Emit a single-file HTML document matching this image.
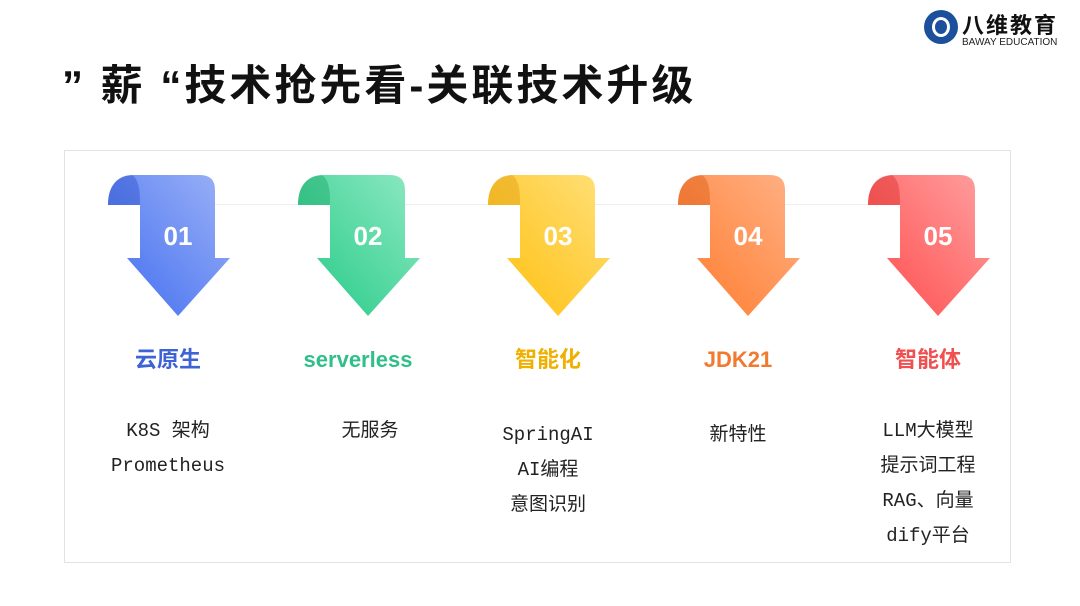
<!DOCTYPE html>
<html><head><meta charset="utf-8"><style>
body{margin:0;width:1080px;height:606px;background:#fff;position:relative;overflow:hidden;font-family:"Liberation Sans","Noto Sans CJK SC",sans-serif}
.t{position:absolute;left:62px;top:52px;font-size:42px;font-weight:bold;color:#111;letter-spacing:3px}
.box{position:absolute;left:64px;top:150px;width:945px;height:411px;border:1px solid #e2e2e2}
.h{position:absolute;font-size:22px;font-weight:bold;text-align:center;width:180px;top:345px;height:30px;line-height:30px}
.d{position:absolute;font-family:"Liberation Mono","Noto Sans CJK SC",monospace;font-size:19px;color:#222;text-align:center;width:180px;top:414px;line-height:35px}
</style></head><body>
<div class="t">” 薪 “技术抢先看-关联技术升级</div>
<div style="position:absolute;left:924px;top:10px;width:34px;height:34px;border-radius:50%;background:#1c4f9c"></div>
<div style="position:absolute;left:932px;top:17px;width:18px;height:20px;border:3px solid #fff;border-radius:50%;box-sizing:border-box"></div>
<div style="position:absolute;left:962px;top:8px;font-size:22px;font-weight:bold;color:#111;letter-spacing:2px">八维教育</div>
<div style="position:absolute;left:962px;top:37px;font-size:10px;color:#222">BAWAY EDUCATION</div>
<div class="box"></div>
<div style="position:absolute;left:140px;top:204px;width:800px;height:1px;background:#eee"></div>
<svg width="1080" height="606" style="position:absolute;left:0;top:0">
<defs>
<linearGradient id="g1" x1="0" y1="1" x2="1" y2="0"><stop offset="0" stop-color="#3f6cf0"/><stop offset="1" stop-color="#9cb2f7"/></linearGradient>
<linearGradient id="g2" x1="0" y1="1" x2="1" y2="0"><stop offset="0" stop-color="#22c985"/><stop offset="1" stop-color="#8ee9c2"/></linearGradient>
<linearGradient id="g3" x1="0" y1="1" x2="1" y2="0"><stop offset="0" stop-color="#ffbe0a"/><stop offset="1" stop-color="#ffe07a"/></linearGradient>
<linearGradient id="g4" x1="0" y1="1" x2="1" y2="0"><stop offset="0" stop-color="#ff7a2a"/><stop offset="1" stop-color="#ffb287"/></linearGradient>
<linearGradient id="g5" x1="0" y1="1" x2="1" y2="0"><stop offset="0" stop-color="#ff4a4a"/><stop offset="1" stop-color="#ffa0a0"/></linearGradient>
<g id="a">
<path d="M108,205 C108,185 118,175 135,175 L200,175 Q215,175 215,190 L215,258 L230,258 L178,316 L127,258 L140,258 L140,205 Z"/>
</g>
</defs>
<g fill="url(#g1)"><use href="#a"/></g>
<g fill="url(#g2)" transform="translate(190,0)"><use href="#a"/></g>
<g fill="url(#g3)" transform="translate(380,0)"><use href="#a"/></g>
<g fill="url(#g4)" transform="translate(570,0)"><use href="#a"/></g>
<g fill="url(#g5)" transform="translate(760,0)"><use href="#a"/></g>
<g opacity="0.35" fill="#000">
<path d="M108,205 C108,185 118,175 132,175 C140,180 140,195 140,205 Z" fill="#1a40c0"/>
<path d="M298,205 C298,185 308,175 322,175 C330,180 330,195 330,205 Z" fill="#0a9a5a"/>
<path d="M488,205 C488,185 498,175 512,175 C520,180 520,195 520,205 Z" fill="#d89000"/>
<path d="M678,205 C678,185 688,175 702,175 C710,180 710,195 710,205 Z" fill="#d04a00"/>
<path d="M868,205 C868,185 878,175 892,175 C900,180 900,195 900,205 Z" fill="#d01a1a"/>
</g>
<g font-family="Liberation Sans" font-weight="bold" font-size="26" fill="#fff" text-anchor="middle">
<text x="178" y="245">01</text><text x="368" y="245">02</text><text x="558" y="245">03</text><text x="748" y="245">04</text><text x="938" y="245">05</text>
</g>
</svg>
<div class="h" style="left:78px;color:#3d63d6">云原生</div>
<div class="h" style="left:268px;color:#2fbf8a">serverless</div>
<div class="h" style="left:458px;color:#f0b000">智能化</div>
<div class="h" style="left:648px;color:#f07a30">JDK21</div>
<div class="h" style="left:838px;color:#f05050">智能体</div>
<div class="d" style="left:78px">K8S 架构<br>Prometheus</div>
<div class="d" style="left:280px">无服务</div>
<div class="d" style="left:458px;top:418px">SpringAI<br>AI编程<br>意图识别</div>
<div class="d" style="left:648px;top:418px">新特性</div>
<div class="d" style="left:838px">LLM大模型<br>提示词工程<br>RAG、向量<br>dify平台</div>
</body></html>
